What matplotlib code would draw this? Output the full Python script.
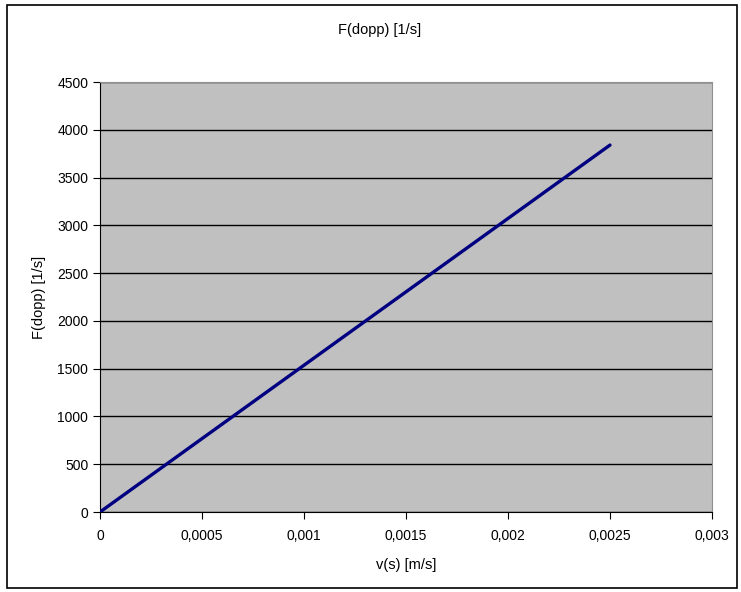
import matplotlib.pyplot as plt
from matplotlib.patches import Rectangle
from matplotlib.ticker import FuncFormatter

# data
v_s = [0, 0.0005, 0.001, 0.0015, 0.002, 0.0025]
f_dopp = [0, 768, 1536, 2304, 3072, 3840]
x_ticks = [0, 0.0005, 0.001, 0.0015, 0.002, 0.0025, 0.003]
y_ticks = [0, 500, 1000, 1500, 2000, 2500, 3000, 3500, 4000, 4500]

plt.rcParams['font.family'] = ['Liberation Sans', 'DejaVu Sans']

fig = plt.figure(figsize=(7.41, 5.92), dpi=100)
ax = fig.add_axes([100 / 741, 1 - 512 / 592, 612 / 741, 430 / 592])
ax.set_facecolor('#c0c0c0')

ax.plot(v_s, f_dopp, color='#000080', lw=2.4, solid_capstyle='round', zorder=3)

ax.set_xlim(0, 0.003)
ax.set_ylim(0, 4500)
ax.set_xticks(x_ticks)
ax.set_yticks(y_ticks)
ax.xaxis.set_major_formatter(FuncFormatter(
    lambda x, p: '0' if x == 0 else ('%g' % x).replace('.', ',')))
ax.grid(axis='y', color='black', lw=1)
ax.set_axisbelow(True)
ax.tick_params(direction='out', length=5, labelsize=10, colors='black')
ax.tick_params(axis='x', pad=7)

for s in ['top', 'right']:
    ax.spines[s].set_color('#909090')
for s in ['left', 'bottom']:
    ax.spines[s].set_color('black')

# chart title sits centred on the whole chart, not the plot area
fig.text(380 / 741, 1 - 30 / 592, 'F(dopp) [1/s]', fontsize=10.5,
         ha='center', va='center')
ax.set_xlabel('v(s) [m/s]', fontsize=10.5, labelpad=11)
ax.set_ylabel('F(dopp) [1/s]', fontsize=10.5, labelpad=8)

# outer chart border
fig.patches.append(Rectangle((7 / 741, 4 / 592), 730 / 741, 583 / 592,
                             transform=fig.transFigure, fill=False,
                             edgecolor='black', lw=1.2))

fig.savefig('out.png', dpi=100)
